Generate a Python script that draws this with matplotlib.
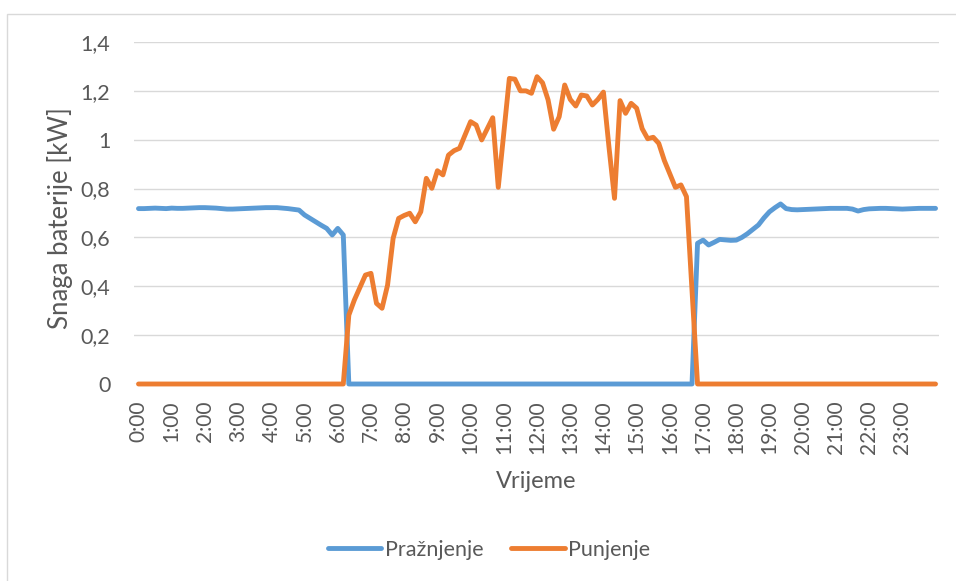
import matplotlib
matplotlib.use("Agg")
import matplotlib.pyplot as plt
import numpy as np
from matplotlib.patches import Rectangle

plt.rcParams['font.family'] = ['Lato', 'DejaVu Sans']

# 10-minute samples from 0:00 to 24:00 (145 points)
hours = list(range(24))
tick_labels = [f"{h}:00" for h in hours]

praznjenje = (
    [0.718, 0.718, 0.719, 0.720, 0.719, 0.718, 0.720, 0.719, 0.719, 0.720,
     0.721, 0.722, 0.722, 0.721, 0.720, 0.718, 0.716, 0.716, 0.717, 0.718,
     0.719, 0.720, 0.721, 0.722, 0.722, 0.722, 0.720, 0.718, 0.715,
     0.712, 0.692, 0.678, 0.664, 0.650, 0.637, 0.610, 0.637, 0.610]
    + [0.0] * 63
    + [0.576, 0.589, 0.569, 0.580, 0.592, 0.590, 0.588, 0.589, 0.600, 0.615,
       0.633, 0.651, 0.680, 0.705, 0.722, 0.737, 0.718, 0.714,
       0.713, 0.714, 0.715, 0.716, 0.717, 0.718, 0.719, 0.719, 0.719, 0.719,
       0.716, 0.708, 0.714, 0.717, 0.718, 0.719, 0.719, 0.718, 0.717, 0.716,
       0.717, 0.718, 0.719, 0.719, 0.719, 0.719]
)

punjenje = (
    [0.0] * 38
    + [0.282, 0.344, 0.395, 0.446, 0.453, 0.330, 0.310, 0.405, 0.596, 0.678,
       0.690, 0.699, 0.664, 0.705, 0.842, 0.801, 0.873, 0.856, 0.937, 0.955,
       0.965, 1.020, 1.074, 1.060, 0.999, 1.045, 1.090, 0.805, 1.030, 1.251,
       1.248, 1.200, 1.200, 1.190, 1.258, 1.233, 1.163, 1.043, 1.094, 1.224,
       1.165, 1.138, 1.183, 1.179, 1.142, 1.165, 1.195, 0.970, 0.760, 1.160,
       1.108, 1.149, 1.129, 1.045, 1.004, 1.010, 0.985, 0.915, 0.860, 0.805,
       0.815, 0.767, 0.380]
    + [0.0] * 44
)

y_ticks = [0, 0.2, 0.4, 0.6, 0.8, 1.0, 1.2, 1.4]
y_tick_labels = ["0", "0,2", "0,4", "0,6", "0,8", "1", "1,2", "1,4"]

W, H = 956, 581
fig = plt.figure(figsize=(W / 100, H / 100), dpi=100)
fig.patch.set_facecolor("white")

# outer chart border
fig.patches.append(Rectangle((7 / W, -0.01), 1.0, 1 - 14 / H + 0.01,
                             transform=fig.transFigure, fill=False,
                             edgecolor="#d9d9d9", linewidth=1.0))

ax_l, ax_r, ax_b, ax_t = 134, 939, 384, 42
ax = fig.add_axes([ax_l / W, 1 - ax_b / H, (ax_r - ax_l) / W, (ax_b - ax_t) / H])

x = np.arange(len(praznjenje))
step = 5.535
first_px = 138.5
ax.set_xlim((ax_l - first_px) / step, (ax_r - first_px) / step)
ax.set_ylim(0, 1.4)

blue = "#5B9BD5"
orange = "#ED7D31"
text_c = "#595959"

l1, = ax.plot(x, praznjenje, color=blue, lw=3.5, solid_joinstyle="round",
              solid_capstyle="round", clip_on=False, zorder=3, label="Pražnjenje")
l2, = ax.plot(x, punjenje, color=orange, lw=3.5, solid_joinstyle="round",
              solid_capstyle="round", clip_on=False, zorder=4, label="Punjenje")

ax.set_yticks(y_ticks)
ax.set_yticklabels(y_tick_labels)
ax.set_xticks([h * 6 for h in hours])
ax.set_xticklabels(tick_labels, rotation=90, va="top", ha="center")

ax.grid(axis="y", color="#d9d9d9", linewidth=1.0)
ax.set_axisbelow(True)
for s in ax.spines.values():
    s.set_visible(False)
ax.tick_params(axis="both", length=0, colors=text_c)
ax.tick_params(axis="y", pad=17, labelsize=15.5)
ax.tick_params(axis="x", pad=12, labelsize=15)

ax.set_ylabel("Snaga baterije [kW]", fontsize=18.5, color=text_c,
              ha="center", va="center")
ax.yaxis.set_label_coords((60 - ax_l) / (ax_r - ax_l), (384 - 218) / (ax_b - ax_t))
fig.text(536 / W, 1 - 481 / H, "Vrijeme", fontsize=17, color=text_c,
         ha="center", va="center")

leg = fig.legend(handles=[l1, l2], loc="center", bbox_to_anchor=(489 / W, 1 - 550 / H),
                 ncol=2, frameon=False, fontsize=15.5, handlelength=2.5,
                 handletextpad=0.15, columnspacing=1.3)
for t in leg.get_texts():
    t.set_color(text_c)
for h in leg.get_lines():
    h.set_linewidth(3.5)
    h.set_solid_capstyle("round")

fig.savefig("out.png", dpi=100, facecolor="white")
